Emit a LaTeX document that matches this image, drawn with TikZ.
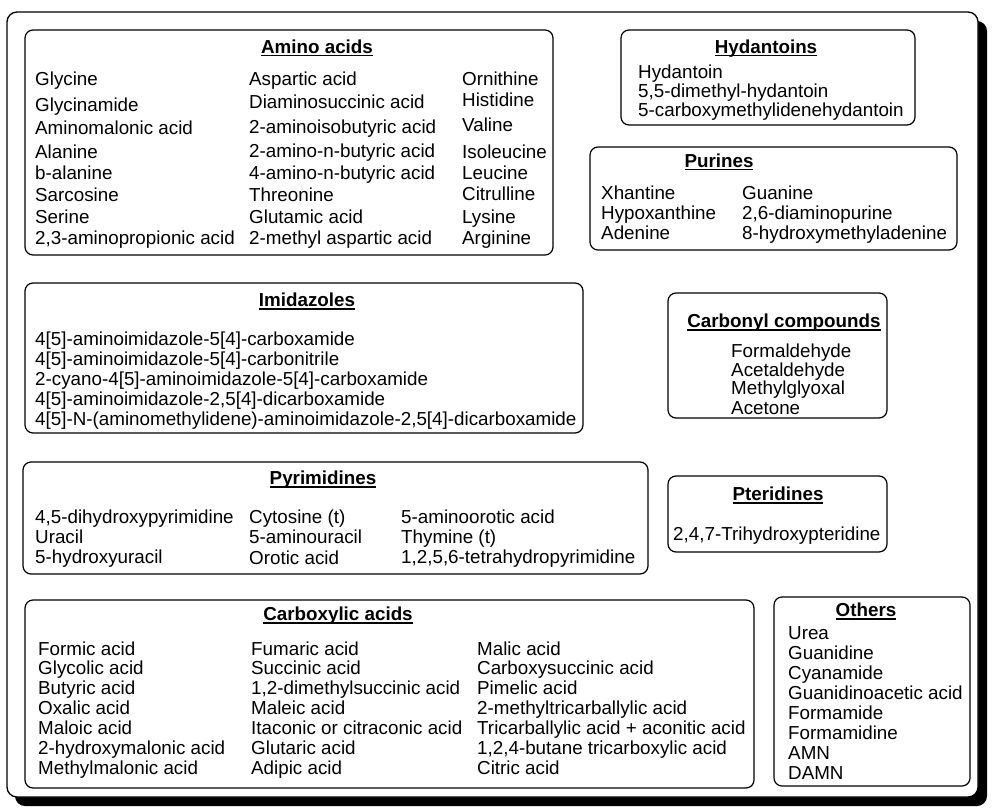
\documentclass[tikz,border=0pt]{standalone}
\usepackage{fontspec}
\setmainfont{Liberation Sans}
\newcommand\ttlu[1]{\setbox0\hbox{#1}\rlap{\rule[-3pt]{\wd0}{1.3pt}}\box0}
\begin{document}
\begin{tikzpicture}[x=1pt,y=-1pt,
  box/.style={draw, line width=1.2pt, rounded corners=8pt},
  itm/.style={anchor=base west, inner sep=0pt, yshift=-1.5pt, font=\fontsize{18.8}{22}\selectfont},
  ttl/.style={anchor=base, inner sep=0pt, yshift=-1.5pt, font=\fontsize{18.8}{22}\selectfont\bfseries}]
\useasboundingbox (0,0) rectangle (1000,810);
% outer frame with shadow
\fill[rounded corners=10pt] (15,21) rectangle (987,806);
\draw[line width=1.3pt, fill=white, rounded corners=10pt] (7,12) rectangle (978,797);

% Amino acids
\draw[box] (25,30) rectangle (553,255);
\node[ttl] (taa) at (317,52) {\ttlu{Amino acids}};
\node[itm] (a1) at (35,84.5) {Glycine};
\node[itm] (a2) at (35,110.5) {Glycinamide};
\node[itm] (a3) at (35,133.5) {Aminomalonic acid};
\node[itm] (a4) at (35,157.5) {Alanine};
\node[itm] (a5) at (35,178.5) {b-alanine};
\node[itm] (a6) at (35,200.5) {Sarcosine};
\node[itm] (a7) at (35,221.5) {Serine};
\node[itm] (a8) at (35,242.5) {2,3-aminopropionic acid};
\node[itm] (a9) at (249,84.5) {Aspartic acid};
\node[itm] (a10) at (249,107.5) {Diaminosuccinic acid};
\node[itm] (a11) at (249,132.5) {2-aminoisobutyric acid};
\node[itm] (a12) at (249,156.5) {2-amino-n-butyric acid};
\node[itm] (a13) at (249,178.5) {4-amino-n-butyric acid};
\node[itm] (a14) at (249,200.5) {Threonine};
\node[itm] (a15) at (249,222.5) {Glutamic acid};
\node[itm] (a16) at (249,242.5) {2-methyl aspartic acid};
\node[itm] (a17) at (462,84.5) {Ornithine};
\node[itm] (a18) at (462,105.5) {Histidine};
\node[itm] (a19) at (462,130.5) {Valine};
\node[itm] (a20) at (462,157.5) {Isoleucine};
\node[itm] (a21) at (462,178.5) {Leucine};
\node[itm] (a22) at (462,199.5) {Citrulline};
\node[itm] (a23) at (462,221.5) {Lysine};
\node[itm] (a24) at (462,242.5) {Arginine};

% Hydantoins
\draw[box] (621,30) rectangle (915,125);
\node[ttl] (thy) at (766,52) {\ttlu{Hydantoins}};
\node[itm] (h1) at (638,77) {Hydantoin};
\node[itm] (h2) at (638,96) {5,5-dimethyl-hydantoin};
\node[itm] (h3) at (638,115) {5-carboxymethylidenehydantoin};

% Purines
\draw[box] (590,147) rectangle (957,250);
\node[ttl] (tpu) at (719,166) {\ttlu{Purines}};
\node[itm] (p1) at (601,198) {Xhantine};
\node[itm] (p2) at (601,218) {Hypoxanthine};
\node[itm] (p3) at (601,238) {Adenine};
\node[itm] (p4) at (742,198) {Guanine};
\node[itm] (p5) at (742,218) {2,6-diaminopurine};
\node[itm] (p6) at (742,238) {8-hydroxymethyladenine};

% Imidazoles
\draw[box] (25,283) rectangle (583,433);
\node[ttl] (tim) at (307,305) {\ttlu{Imidazoles}};
\node[itm] (i1) at (35,344) {4[5]-aminoimidazole-5[4]-carboxamide};
\node[itm] (i2) at (35,364) {4[5]-aminoimidazole-5[4]-carbonitrile};
\node[itm] (i3) at (35,384) {2-cyano-4[5]-aminoimidazole-5[4]-carboxamide};
\node[itm] (i4) at (35,404) {4[5]-aminoimidazole-2,5[4]-dicarboxamide};
\node[itm] (i5) at (35,424) {4[5]-N-(aminomethylidene)-aminoimidazole-2,5[4]-dicarboxamide};

% Carbonyl compounds
\draw[box] (668,293) rectangle (887,418);
\node[ttl] (tca) at (784,326) {\ttlu{Carbonyl compounds}};
\node[itm] (c1) at (731,356) {Formaldehyde};
\node[itm] (c2) at (731,375) {Acetaldehyde};
\node[itm] (c3) at (731,393) {Methylglyoxal};
\node[itm] (c4) at (731,413) {Acetone};

% Pyrimidines
\draw[box] (23,462) rectangle (648,574);
\node[ttl] (tpy) at (323,483) {\ttlu{Pyrimidines}};
\node[itm] (y1) at (35,522) {4,5-dihydroxypyrimidine};
\node[itm] (y2) at (35,542) {Uracil};
\node[itm] (y3) at (35,562) {5-hydroxyuracil};
\node[itm] (y4) at (249,522) {Cytosine (t)};
\node[itm] (y5) at (249,542) {5-aminouracil};
\node[itm] (y6) at (249,563) {Orotic acid};
\node[itm] (y7) at (401,522) {5-aminoorotic acid};
\node[itm] (y8) at (401,542) {Thymine (t)};
\node[itm] (y9) at (401,562) {1,2,5,6-tetrahydropyrimidine};

% Pteridines
\draw[box] (668,476) rectangle (887,552);
\node[ttl] (tpt) at (778,499) {\ttlu{Pteridines}};
\node[itm] (t1) at (673,539) {2,4,7-Trihydroxypteridine};

% Carboxylic acids
\draw[box] (25,600) rectangle (754,788);
\node[ttl] (tcx) at (338,619) {\ttlu{Carboxylic acids}};
\node[itm] (x1) at (38,654) {Formic acid};
\node[itm] (x2) at (38,673) {Glycolic acid};
\node[itm] (x3) at (38,693) {Butyric acid};
\node[itm] (x4) at (38,713) {Oxalic acid};
\node[itm] (x5) at (38,733) {Maloic acid};
\node[itm] (x6) at (38,753) {2-hydroxymalonic acid};
\node[itm] (x7) at (38,773) {Methylmalonic acid};
\node[itm] (x8) at (251,654) {Fumaric acid};
\node[itm] (x9) at (251,673) {Succinic acid};
\node[itm] (x10) at (251,693) {1,2-dimethylsuccinic acid};
\node[itm] (x11) at (251,713) {Maleic acid};
\node[itm] (x12) at (251,733) {Itaconic or citraconic acid};
\node[itm] (x13) at (251,753) {Glutaric acid};
\node[itm] (x14) at (251,773) {Adipic acid};
\node[itm] (x15) at (477,654) {Malic acid};
\node[itm] (x16) at (477,673) {Carboxysuccinic acid};
\node[itm] (x17) at (477,693) {Pimelic acid};
\node[itm] (x18) at (477,713) {2-methyltricarballylic acid};
\node[itm] (x19) at (477,733) {Tricarballylic acid + aconitic acid};
\node[itm] (x20) at (477,753) {1,2,4-butane tricarboxylic acid};
\node[itm] (x21) at (477,773) {Citric acid};

% Others
\draw[box] (774,597) rectangle (970,786);
\node[ttl] (tot) at (866,615) {\ttlu{Others}};
\node[itm] (o1) at (788,638) {Urea};
\node[itm] (o2) at (788,658) {Guanidine};
\node[itm] (o3) at (788,678) {Cyanamide};
\node[itm] (o4) at (788,698) {Guanidinoacetic acid};
\node[itm] (o5) at (788,718) {Formamide};
\node[itm] (o6) at (788,738) {Formamidine};
\node[itm] (o7) at (788,758) {AMN};
\node[itm] (o8) at (788,778) {DAMN};
\end{tikzpicture}
\end{document}
